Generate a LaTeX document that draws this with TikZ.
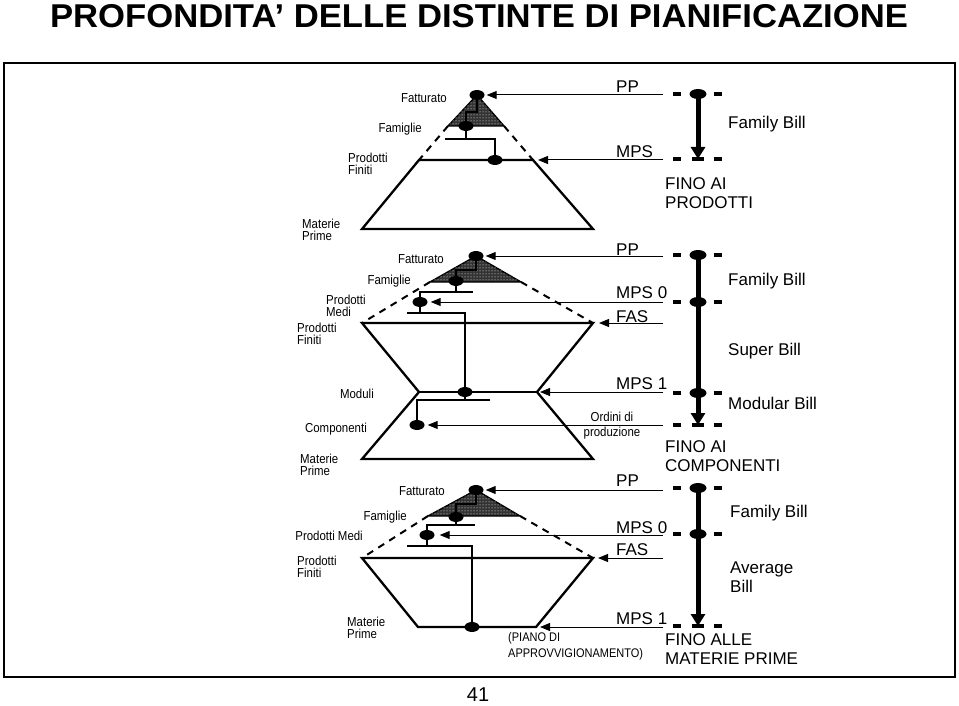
\documentclass[tikz,border=0pt]{standalone}
\usepackage{fontspec}
\usepackage{graphicx}
\setmainfont{Liberation Sans}
\newfontfamily\narrowfont[FakeStretch=0.88]{Liberation Sans}
\usetikzlibrary{arrows.meta,shapes.geometric,patterns}
\newcommand\sidedash[1]{\draw[rdash] (673,#1) -- (681,#1) (714,#1) -- (722,#1);}
\newcommand\middash[1]{\draw[rdash] (692,#1) -- (704,#1);}
\begin{document}
\begin{tikzpicture}[x=1pt,y=-1pt,
  slbl/.style={inner sep=0pt, font=\narrowfont\fontsize{13}{12}\selectfont, align=left},
  slone/.style={inner sep=0pt, font=\narrowfont\fontsize{13}{12}\selectfont, text height=9.3pt, text depth=0pt},
  blbl/.style={inner sep=0pt, font=\fontsize{17}{19}\selectfont, align=left},
  blone/.style={inner sep=0pt, font=\fontsize{17}{19}\selectfont, text height=12.2pt, text depth=0pt},
  bdot/.style={ellipse, fill=black, minimum width=15pt, minimum height=10pt, inner sep=0pt},
  rdot/.style={ellipse, fill=black, minimum width=17pt, minimum height=10pt, inner sep=0pt},
  conn/.style={line width=1.2pt},
  rarr/.style={line width=1pt, -{Triangle[length=10pt,width=8pt]}},
  bigarr/.style={line width=5pt, -{Triangle[length=12pt,width=14pt]}},
  thk/.style={line width=2.3pt, line join=miter},
  dsh/.style={line width=2pt, dash pattern=on 7pt off 6pt},
  rdash/.style={line width=3.5pt},
  tri/.style={fill=black!80, postaction={pattern=dots, pattern color=white}, draw=black, line width=1.4pt, line join=miter}
]
\useasboundingbox (0,0) rectangle (959,706);
\fill[white] (0,0) rectangle (959,706);

% title and frame
\node[inner sep=0pt] (title) at (479,16.5) {\scalebox{1.05}[1]{\fontsize{33}{36}\selectfont\bfseries PROFONDITA’ DELLE DISTINTE DI PIANIFICAZIONE}};
\draw[line width=2pt] (4,63) rectangle (955,677);
\node[inner sep=0pt, font=\fontsize{20}{22}\selectfont, text height=14.3pt, text depth=0pt] (pg) at (478,694) {41};

% ================= section 1 =================
\coordinate (c1tl) at (419,160);
\coordinate (c1tr) at (533,160);
\coordinate (c1br) at (593,229);
\coordinate (c1bl) at (362,229);
\draw[tri] (477,95) -- (448,126) -- (504,126) -- cycle;
\draw[dsh] (448,126) -- (c1tl);
\draw[dsh] (504,126) -- (c1tr);
\draw[thk] (c1tl) -- (c1tr) -- (c1br) -- (c1bl) -- cycle;

\node[bdot] (ap1) at (477,95) {};
\node[bdot] (fm1) at (466,126) {};
\node[bdot] (pf1) at (495,160) {};
\coordinate (h1a) at (445,139);
\coordinate (h1b) at (495,139);
\draw[conn] (ap1.center) -- (477,112) -| (fm1.center);
\draw[conn] (fm1) -- (fm1 |- h1a);
\draw[conn] (h1a) -- (h1b) -- (pf1);

\coordinate (r1a) at (663,95);
\coordinate (r1b) at (663,160);
\draw[rarr, shorten >=2pt] (r1a) -- (ap1);
\draw[rarr, shorten >=5pt] (r1b) -- (c1tr);

\node[blone, anchor=west] (pp1) at (616,86) {PP};
\node[blone, anchor=west] (mps1) at (616,151) {MPS};

\node[slone, anchor=east] (fat1) at (447,98) {Fatturato};
\node[slone, anchor=east] (fam1) at (422,128) {Famiglie};
\node[slbl, anchor=west] (pfl1) at (348,164) {Prodotti\\Finiti};
\node[slbl, anchor=west] (mpl1) at (302,230) {Materie\\Prime};

\node[rdot] (q1a) at (698,94) {};
\coordinate (q1e) at (698,159);
\draw[bigarr] (q1a.center) -- (q1e);
\sidedash{94}
\sidedash{159}
\middash{159}
\node[blone, anchor=west] (fb1) at (728,122) {Family Bill};
\node[blbl, anchor=west] (fino1) at (665,193) {FINO AI\\PRODOTTI};

% ================= section 2 =================
\coordinate (c2tl) at (362,323);
\coordinate (c2tr) at (593,323);
\coordinate (c2mr) at (537,392);
\coordinate (c2ml) at (419,392);
\coordinate (c2br) at (593,459);
\coordinate (c2bl) at (362,459);
\draw[tri] (476,256) -- (430,282) -- (521,282) -- cycle;
\draw[dsh] (430,282) -- (c2tl);
\draw[dsh] (521,282) -- (c2tr);
\draw[thk] (c2tl) -- (c2tr) -- (c2mr) -- (c2br) -- (c2bl) -- (c2ml) -- cycle;
\draw[thk] (c2ml) -- (c2mr);

\node[bdot] (ap2) at (476,256) {};
\node[bdot] (fm2) at (456,281) {};
\node[bdot] (md2) at (420,302) {};
\node[bdot] (mo2) at (465,392) {};
\node[bdot] (co2) at (417,425) {};
\coordinate (h2a) at (420,292);
\coordinate (h2b) at (473,292);
\coordinate (h2c) at (407,313);
\coordinate (h2d) at (465,313);
\coordinate (h2e) at (417,400);
\coordinate (h2f) at (490,400);
\draw[conn] (ap2.center) -- (476,270) -| (fm2.center);
\draw[conn] (fm2) -- (fm2 |- h2a);
\draw[conn] (h2b) -- (h2a) -- (md2);
\draw[conn] (md2) -- (md2 |- h2c);
\draw[conn] (h2c) -- (h2d) -- (mo2);
\draw[conn] (mo2) -- (mo2 |- h2e);
\draw[conn] (h2f) -- (h2e) -- (co2);

\coordinate (r2a) at (663,256);
\coordinate (r2b) at (663,302);
\coordinate (r2c) at (663,323);
\coordinate (r2d) at (663,392);
\coordinate (r2e) at (663,425);
\draw[rarr, shorten >=2pt] (r2a) -- (ap2);
\draw[rarr, shorten >=3pt] (r2b) -- (md2);
\draw[rarr, shorten >=6pt] (r2c) -- (c2tr);
\draw[rarr, shorten >=3pt] (r2d) -- (c2mr);
\draw[rarr, shorten >=3pt] (r2e) -- (co2);

\node[blone, anchor=west] (pp2) at (616,249) {PP};
\node[blone, anchor=west] (mps02) at (616,292) {MPS 0};
\node[blone, anchor=west] (fas2) at (616,316) {FAS};
\node[blone, anchor=west] (mps12) at (616,383) {MPS 1};
\node[slbl, align=center] (ord) at (612,426) {Ordini di\\[3pt]produzione};

\node[slone, anchor=east] (fat2) at (444,259) {Fatturato};
\node[slone, anchor=east] (fam2) at (411,280) {Famiglie};
\node[slbl, anchor=west] (pml2) at (326,306) {Prodotti\\Medi};
\node[slbl, anchor=west] (pfl2) at (297,334) {Prodotti\\Finiti};
\node[slone, anchor=east] (mod2) at (374,394) {Moduli};
\node[slone, anchor=east] (com2) at (367,428) {Componenti};
\node[slbl, anchor=west] (mpl2) at (300,465) {Materie\\Prime};

\node[rdot] (q2a) at (698,255) {};
\node[rdot] (q2b) at (698,302) {};
\node[rdot] (q2c) at (698,393) {};
\coordinate (q2e) at (698,425);
\draw[bigarr] (q2a.center) -- (q2e);
\sidedash{255}
\sidedash{302}
\sidedash{393}
\sidedash{425}
\middash{425}
\node[blone, anchor=west] (fb2) at (728,279) {Family Bill};
\node[blone, anchor=west] (sb2) at (728,349) {Super Bill};
\node[blone, anchor=west] (mb2) at (728,403) {Modular Bill};
\node[blbl, anchor=west] (fino2) at (665,456) {FINO AI\\COMPONENTI};

% ================= section 3 =================
\coordinate (c3tl) at (362,558);
\coordinate (c3tr) at (593,558);
\coordinate (c3br) at (536,627);
\coordinate (c3bl) at (418,627);
\draw[tri] (476,490) -- (428,516) -- (520,516) -- cycle;
\draw[dsh] (428,516) -- (c3tl);
\draw[dsh] (520,516) -- (c3tr);
\draw[thk] (c3tl) -- (c3tr) -- (c3br) -- (c3bl) -- cycle;

\node[bdot] (ap3) at (476,490) {};
\node[bdot] (fm3) at (456,517) {};
\node[bdot] (md3) at (427,535) {};
\node[bdot] (mp3) at (472,627) {};
\coordinate (h3a) at (427,525);
\coordinate (h3b) at (475,525);
\coordinate (h3c) at (407,546);
\coordinate (h3d) at (472,546);
\draw[conn] (ap3.center) -- (476,504) -| (fm3.center);
\draw[conn] (fm3) -- (fm3 |- h3a);
\draw[conn] (h3b) -- (h3a) -- (md3);
\draw[conn] (md3) -- (md3 |- h3c);
\draw[conn] (h3c) -- (h3d) -- (mp3);

\coordinate (r3a) at (663,490);
\coordinate (r3b) at (663,535);
\coordinate (r3c) at (663,558);
\coordinate (r3d) at (663,627);
\draw[rarr, shorten >=2pt] (r3a) -- (ap3);
\draw[rarr, shorten >=5pt] (r3b) -- (md3);
\draw[rarr, shorten >=5pt] (r3c) -- (c3tr);
\draw[rarr, shorten >=4pt] (r3d) -- (c3br);

\node[blone, anchor=west] (pp3) at (616,480) {PP};
\node[blone, anchor=west] (mps03) at (616,527) {MPS 0};
\node[blone, anchor=west] (fas3) at (616,549) {FAS};
\node[blone, anchor=west] (mps13) at (616,618) {MPS 1};
\node[inner sep=0pt, font=\narrowfont\fontsize{12.5}{16}\selectfont, align=left, anchor=west] (piano) at (508,646) {(PIANO DI\\APPROVVIGIONAMENTO)};

\node[slone, anchor=east] (fat3) at (445,491) {Fatturato};
\node[slone, anchor=east] (fam3) at (407,516) {Famiglie};
\node[slone, anchor=east] (pml3) at (363,536) {Prodotti Medi};
\node[slbl, anchor=west] (pfl3) at (297,567) {Prodotti\\Finiti};
\node[slbl, anchor=west] (mpl3) at (347,628) {Materie\\Prime};

\node[rdot] (q3a) at (698,488) {};
\node[rdot] (q3b) at (698,534) {};
\coordinate (q3e) at (698,626);
\draw[bigarr] (q3a.center) -- (q3e);
\sidedash{488}
\sidedash{534}
\sidedash{626}
\middash{626}
\node[blone, anchor=west] (fb3) at (730,511) {Family Bill};
\node[blbl, anchor=west] (avg3) at (730,577) {Average\\Bill};
\node[blbl, anchor=west] (fino3) at (665,649) {FINO ALLE\\MATERIE PRIME};
\end{tikzpicture}
\end{document}
